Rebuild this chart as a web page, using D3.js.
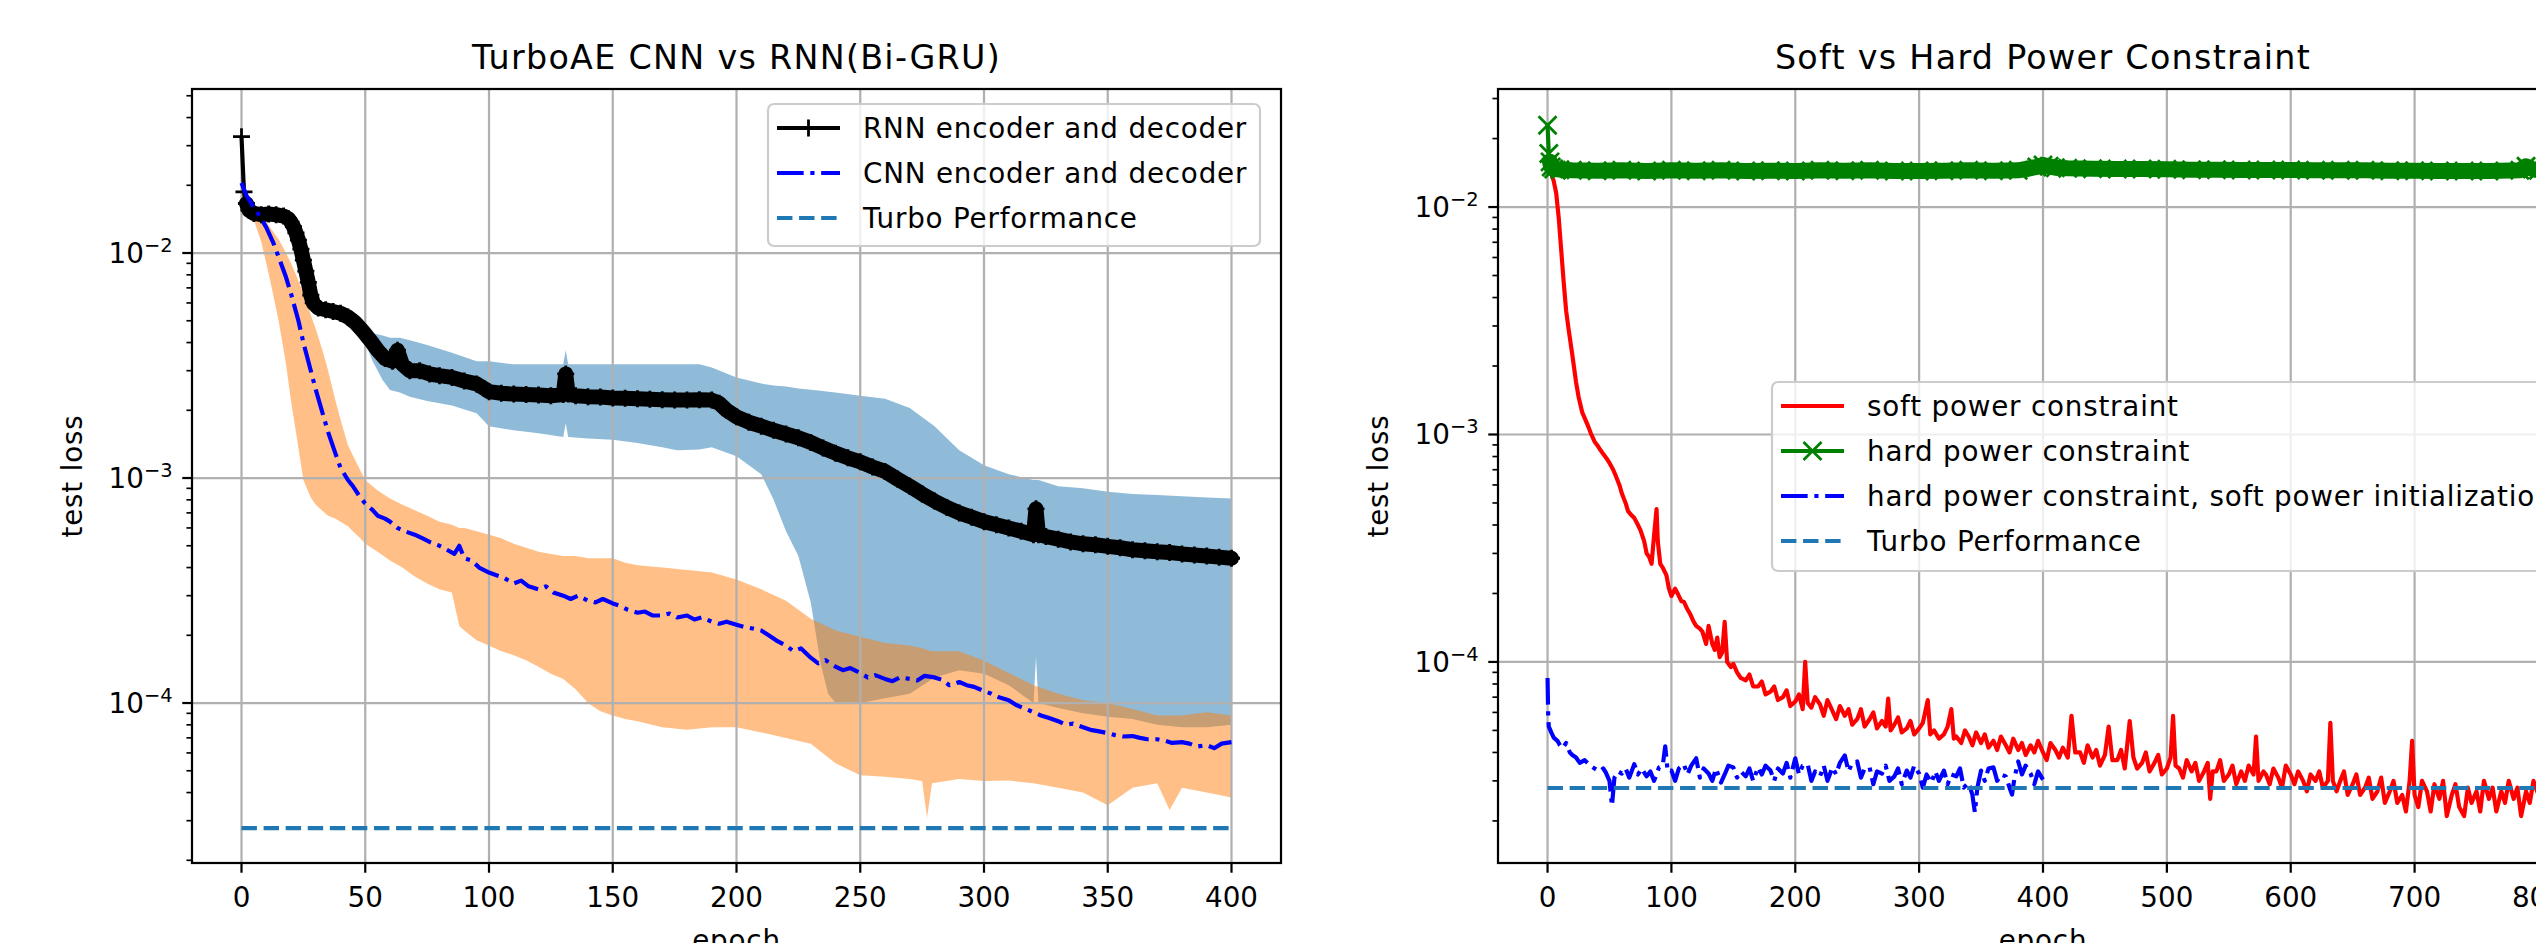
<!DOCTYPE html>
<html>
<head>
<script src="https://d3js.org/d3.v7.min.js"></script>
<style>
  body { margin: 0; background: white; }
  svg text { font-family: "DejaVu Sans", sans-serif; fill: black; }
</style>
</head>
<body>
<svg id="fig" width="2536" height="943"></svg>
<script>
// ---------- data ----------
const titles = ["TurboAE CNN vs RNN(Bi-GRU)", "Soft vs Hard Power Constraint"];
const xLabel = "epoch";
const yLabel = "test loss";
const xTicksLeft = [0, 50, 100, 150, 200, 250, 300, 350, 400];
const xTicksRight = [0, 100, 200, 300, 400, 500, 600, 700, 800];
const yMajorExp = [-4, -3, -2];
const legendLeft = ["RNN encoder and decoder", "CNN encoder and decoder", "Turbo Performance"];
const legendRight = ["soft power constraint", "hard power constraint", "hard power constraint, soft power initialization", "Turbo Performance"];

// left panel: [epoch, loss]
const rnnLoss = [[0,0.0329],[1,0.0187],[2,0.0166],[3,0.0155],[5,0.0150],[8,0.0148],[11,0.0149],[14,0.0148],[17,0.0146],[19,0.0142],[20,0.0137],[21,0.0131],[22,0.0123],[23,0.0114],[24,0.0104],[25,0.0093],[26,0.0083],[27,0.0074],[28,0.0065],[29,0.0060],[31,0.0057],[34,0.0056],[37,0.0055],[40,0.0054],[43,0.0052],[46,0.0049],[49,0.0045],[52,0.0041],[55,0.0037],[58,0.0034],[61,0.0033],[63,0.0037],[65,0.0032],[68,0.0030],[72,0.0030],[76,0.0029],[80,0.00285],[85,0.0028],[90,0.0027],[95,0.00262],[98,0.0025],[100,0.00242],[105,0.00238],[110,0.00236],[115,0.00235],[120,0.00234],[125,0.00232],[130,0.00235],[131,0.00290],[132,0.00236],[135,0.00232],[140,0.0023],[145,0.00229],[150,0.00227],[155,0.00226],[160,0.00225],[165,0.00224],[170,0.00223],[175,0.00222],[180,0.00222],[185,0.00223],[190,0.00222],[193,0.00215],[196,0.002],[200,0.00187],[205,0.00177],[210,0.0017],[215,0.00163],[220,0.00157],[225,0.00151],[230,0.00144],[235,0.00136],[240,0.00129],[245,0.00123],[250,0.00118],[255,0.00112],[260,0.00107],[265,0.00099],[270,0.00092],[275,0.00085],[280,0.00079],[285,0.00074],[290,0.0007],[295,0.00067],[300,0.00064],[305,0.00062],[310,0.0006],[315,0.00058],[320,0.00056],[321,0.00073],[322,0.00056],[325,0.00055],[330,0.000535],[335,0.00052],[340,0.00051],[345,0.000505],[350,0.000497],[355,0.00049],[360,0.00048],[365,0.000475],[370,0.00047],[375,0.000467],[380,0.00046],[385,0.000455],[390,0.00045],[395,0.000445],[400,0.00044]];

const cnnLoss = [[0,0.0205],[2,0.018],[5,0.016],[8,0.0142],[10,0.013],[13,0.011],[15,0.0096],[18,0.0078],[20,0.0066],[23,0.005],[25,0.004],[28,0.003],[30,0.00247],[33,0.0019],[35,0.0016],[38,0.00128],[40,0.00111],[43,0.00098],[45,0.00092],[48,0.00082],[50,0.00077],[53,0.00072],[55,0.00068],[58,0.00066],[60,0.00064],[63,0.0006],[66,0.00058],[70,0.00056],[73,0.00054],[76,0.00052],[80,0.0005],[83,0.00048],[86,0.00046],[88,0.0005],[90,0.00044],[93,0.00043],[96,0.0004],[100,0.00038],[103,0.00037],[106,0.00036],[110,0.00034],[113,0.00035],[116,0.00033],[120,0.00032],[123,0.00033],[126,0.00031],[130,0.0003],[133,0.00029],[136,0.0003],[140,0.000285],[143,0.00028],[146,0.00029],[150,0.000277],[153,0.00027],[156,0.00026],[160,0.000252],[163,0.000255],[166,0.000245],[170,0.000245],[173,0.00025],[176,0.00024],[180,0.000245],[183,0.000235],[186,0.00024],[190,0.00023],[193,0.000225],[196,0.00023],[200,0.000223],[203,0.000218],[206,0.000215],[210,0.00021],[213,0.0002],[216,0.00019],[220,0.00018],[223,0.00017],[226,0.000175],[230,0.000159],[233,0.00015],[236,0.000155],[240,0.000145],[243,0.00014],[246,0.000143],[250,0.000136],[253,0.00013],[256,0.000133],[260,0.000128],[263,0.000125],[266,0.00013],[270,0.000128],[273,0.000126],[276,0.000132],[280,0.00013],[283,0.000127],[286,0.00012],[290,0.000124],[293,0.00012],[296,0.000118],[300,0.000113],[303,0.00011],[306,0.000106],[310,0.000103],[313,0.000098],[316,0.000095],[320,0.000091],[323,0.000088],[326,0.000086],[330,0.000083],[333,0.00008],[336,0.000081],[340,0.000078],[343,0.000076],[346,0.000075],[350,0.0000735],[353,0.000072],[356,0.000071],[360,0.0000713],[363,0.00007],[366,0.000069],[370,0.000069],[373,0.000068],[376,0.0000665],[380,0.000067],[383,0.000066],[386,0.000064],[390,0.000065],[393,0.000063],[396,0.000066],[400,0.000067]];

// shaded ranges: [epoch, low, high]
const rnnBand = [[0,0.032,0.034],[1,0.0185,0.019],[3,0.0152,0.0158],[10,0.0144,0.0152],[19,0.0138,0.0146],[22,0.0118,0.0128],[25,0.0088,0.0099],[28,0.0061,0.0069],[31,0.0055,0.0059],[40,0.0052,0.0056],[46,0.0047,0.0051],[50,0.004,0.0046],[53,0.0033,0.0044],[57,0.00273,0.0043],[60,0.00246,0.0042],[64,0.0024,0.0042],[68,0.0023,0.0041],[75,0.0022,0.0039],[85,0.0021,0.0036],[95,0.00194,0.0033],[100,0.0017,0.0033],[110,0.00163,0.0032],[120,0.00158,0.0032],[130,0.00152,0.0032],[131,0.00175,0.0037],[132,0.00152,0.0032],[140,0.0015,0.0032],[150,0.00148,0.0032],[160,0.00143,0.0032],[170,0.00137,0.0032],[176,0.00133,0.0032],[185,0.00134,0.0032],[190,0.00137,0.0031],[200,0.00125,0.0028],[210,0.00104,0.00263],[215,0.0008,0.00258],[220,0.00058,0.00255],[225,0.00045,0.0025],[230,0.00028,0.00247],[234,0.00015,0.00244],[237,0.00011,0.00242],[240,0.0001,0.0024],[250,0.0001,0.00232],[260,0.000105,0.00225],[270,0.00011,0.00205],[280,0.00013,0.0017],[290,0.00014,0.00133],[300,0.000135,0.00114],[310,0.00012,0.00104],[320,0.0001,0.00098],[321,0.00016,0.00098],[322,0.0001,0.00098],[330,0.000095,0.00092],[340,0.00009,0.0009],[350,0.000087,0.00087],[360,0.000085,0.00085],[370,0.00008,0.00084],[380,0.000078,0.00083],[390,0.000078,0.00082],[400,0.00008,0.00081]];

const cnnBand = [[0,0.02,0.021],[3,0.016,0.0172],[5,0.014,0.0162],[8,0.0112,0.015],[10,0.009,0.0138],[12,0.0072,0.0128],[15,0.005,0.0115],[18,0.0032,0.01],[20,0.0022,0.009],[22,0.0016,0.008],[25,0.00098,0.0066],[28,0.00082,0.0053],[30,0.00076,0.0046],[33,0.00071,0.0036],[35,0.00068,0.003],[38,0.00066,0.0022],[40,0.00064,0.00182],[43,0.00061,0.0014],[45,0.00058,0.00126],[48,0.00054,0.00108],[50,0.00051,0.00098],[55,0.00047,0.00088],[60,0.00043,0.00081],[65,0.0004,0.00076],[70,0.000365,0.00072],[75,0.00034,0.00068],[80,0.00032,0.00064],[85,0.00031,0.00062],[88,0.00022,0.0006],[90,0.00021,0.0006],[95,0.00019,0.00058],[100,0.00018,0.00056],[105,0.00017,0.00054],[110,0.000163,0.00051],[115,0.000155,0.00049],[120,0.000145,0.00047],[125,0.000135,0.00046],[130,0.000128,0.00045],[135,0.000115,0.00045],[140,0.0001,0.00044],[145,0.000092,0.00044],[150,0.000088,0.00044],[155,0.000085,0.00042],[160,0.000083,0.00041],[170,0.000078,0.0004],[180,0.000076,0.00039],[190,0.000078,0.00038],[200,0.000078,0.000354],[210,0.000074,0.00032],[220,0.00007,0.000285],[230,0.000066,0.000237],[240,0.000054,0.00021],[250,0.0000478,0.000197],[260,0.000047,0.000185],[270,0.000046,0.00018],[275,0.000045,0.000175],[277,0.000031,0.000172],[279,0.000044,0.00017],[290,0.000046,0.00017],[300,0.000045,0.000154],[310,0.0000452,0.000136],[320,0.000044,0.00012],[330,0.000042,0.00011],[340,0.00004,0.000103],[350,0.0000351,0.0001],[360,0.000042,0.000094],[370,0.000044,0.000088],[375,0.0000335,0.000088],[380,0.000042,0.000088],[390,0.00004,0.000091],[400,0.000038,0.000088]];

const turboLeft = [[0,0.0000278],[399,0.0000278]];

// right panel: [epoch, loss]
const softLoss = [[0,0.0145],[3,0.014],[5,0.013],[7,0.0115],[9,0.009],[11,0.0065],[13,0.0047],[15,0.0035],[17,0.0029],[20,0.00224],[23,0.0017],[25,0.00147],[28,0.00125],[30,0.00118],[33,0.00108],[35,0.00101],[38,0.00093],[40,0.0009],[43,0.00085],[45,0.00082],[48,0.00078],[50,0.00075],[53,0.0007],[55,0.00066],[58,0.0006],[60,0.00055],[63,0.0005],[65,0.00046],[68,0.00044],[70,0.00043],[73,0.0004],[75,0.00038],[78,0.00034],[80,0.0003],[82,0.00029],[84,0.00027],[86,0.00036],[88,0.00047],[89,0.00034],[91,0.00027],[93,0.00026],[96,0.00024],[98,0.00021],[100,0.000195],[103,0.00021],[105,0.0002],[108,0.000185],[110,0.000184],[113,0.00017],[115,0.000163],[118,0.00015],[120,0.000144],[123,0.00014],[125,0.000136],[128,0.00012],[130,0.000144],[133,0.00012],[135,0.000113],[137,0.000128],[139,0.000105],[141,0.00011],[143,0.00015],[145,0.0001],[148,0.000095],[150,0.000098],[153,0.00009],[156,0.000085],[160,0.000083],[163,0.000088],[166,0.000078],[170,0.000078],[173,0.000082],[176,0.000072],[180,0.000074],[183,0.000078],[186,0.000068],[190,0.00007],[193,0.000075],[196,0.000064],[200,0.000067],[203,0.000072],[206,0.000062],[208,0.0001],[210,0.000066],[213,0.000063],[216,0.00007],[220,0.000065],[223,0.000058],[226,0.000068],[230,0.000061],[233,0.000056],[236,0.000064],[240,0.000058],[243,0.000062],[246,0.000053],[250,0.000056],[253,0.000062],[256,0.000052],[260,0.000056],[263,0.00006],[266,0.000051],[270,0.000055],[273,0.000052],[275,0.000069],[277,0.00005],[280,0.000053],[283,0.000057],[286,0.000049],[290,0.000051],[293,0.000055],[296,0.000048],[300,0.000051],[303,0.000054],[307,0.000068],[309,0.000048],[312,0.00005],[316,0.000046],[320,0.000048],[323,0.000052],[326,0.000062],[328,0.000046],[330,0.000047],[334,0.000044],[337,0.00005],[340,0.000047],[343,0.000043],[346,0.000049],[350,0.000044],[353,0.000048],[356,0.000042],[360,0.000045],[363,0.000041],[366,0.000047],[370,0.000043],[373,0.00004],[376,0.000046],[380,0.000041],[383,0.000044],[386,0.000039],[390,0.000043],[393,0.00004],[396,0.000045],[400,0.00004],[403,0.000037],[406,0.000044],[410,0.000041],[413,0.000038],[416,0.000042],[420,0.000038],[423,0.000058],[426,0.00004],[430,0.00004],[433,0.000036],[436,0.000043],[440,0.000038],[443,0.000041],[446,0.000035],[450,0.000039],[453,0.000052],[456,0.000037],[460,0.000037],[463,0.000041],[466,0.000034],[470,0.000055],[473,0.000038],[476,0.000034],[480,0.000036],[483,0.00004],[486,0.000033],[490,0.000036],[493,0.000039],[496,0.000032],[500,0.000034],[503,0.000038],[505,0.000058],[507,0.000035],[510,0.000034],[513,0.000031],[516,0.000037],[520,0.000033],[523,0.000036],[526,0.00003],[530,0.000033],[533,0.000036],[535,0.000025],[537,0.000033],[540,0.000033],[543,0.000037],[546,0.00003],[550,0.000032],[553,0.000035],[556,0.000029],[560,0.000033],[563,0.00003],[566,0.000035],[570,0.000032],[572,0.000047],[574,0.00003],[578,0.000033],[580,0.000032],[583,0.000029],[586,0.000034],[590,0.000031],[593,0.000028],[596,0.000035],[600,0.000032],[603,0.000029],[606,0.000033],[610,0.00003],[613,0.000027],[616,0.000032],[620,0.00003],[623,0.000033],[626,0.000028],[630,0.00003],[632,0.000054],[634,0.00003],[637,0.000027],[640,0.00003],[643,0.000033],[646,0.000026],[650,0.000029],[653,0.000032],[656,0.000026],[660,0.000028],[663,0.000031],[666,0.000025],[670,0.000027],[673,0.000031],[676,0.000024],[680,0.000027],[683,0.00003],[686,0.000024],[690,0.000026],[693,0.000022],[696,0.00003],[698,0.000045],[700,0.000026],[703,0.000023],[706,0.00003],[710,0.000027],[713,0.000022],[716,0.000029],[720,0.000025],[723,0.00003],[726,0.000021],[730,0.000026],[733,0.000029],[736,0.000023],[740,0.000021],[743,0.000028],[746,0.000024],[750,0.000027],[753,0.000022],[756,0.00003],[760,0.000025],[763,0.000028],[766,0.000022],[770,0.000027],[773,0.000024],[776,0.00003],[780,0.000025],[783,0.000028],[786,0.000021],[790,0.000027],[793,0.000024],[796,0.00003],[800,0.000026]];

const hardLoss = [[0,0.0229],[1,0.0172],[2,0.0158],[3,0.015],[5,0.0147],[10,0.0146],[20,0.0145],[40,0.01445],[60,0.0145],[80,0.0144],[100,0.0145],[120,0.01445],[140,0.0145],[160,0.0144],[180,0.01445],[200,0.0144],[220,0.0145],[240,0.01445],[260,0.0145],[280,0.0144],[300,0.0144],[320,0.01445],[340,0.0145],[360,0.01445],[380,0.0145],[395,0.015],[400,0.0153],[405,0.0151],[410,0.0149],[420,0.0148],[440,0.01475],[460,0.0147],[480,0.0147],[500,0.01465],[520,0.0146],[540,0.0146],[560,0.01455],[580,0.01455],[600,0.01455],[620,0.0145],[640,0.0145],[660,0.0145],[680,0.01445],[700,0.01445],[720,0.0144],[740,0.0144],[760,0.0144],[785,0.0145],[790,0.0151],[795,0.0147],[800,0.0145]];

const hardSoftInitLoss = [[0,0.000085],[0.5,0.000059],[1,0.000052],[3,0.000049],[5,0.0000465],[8,0.000045],[10,0.000043],[12,0.0000418],[15,0.000044],[18,0.00004],[20,0.000039],[23,0.000038],[26,0.000036],[30,0.000037],[34,0.0000352],[38,0.000034],[42,0.000033],[45,0.000034],[47,0.0000327],[50,0.00003],[52,0.0000233],[54,0.000031],[57,0.000033],[60,0.0000323],[63,0.000034],[66,0.000031],[70,0.0000355],[73,0.000032],[76,0.000034],[80,0.0000314],[83,0.000033],[86,0.00003],[90,0.0000344],[93,0.000035],[95,0.0000426],[97,0.000033],[100,0.0000333],[103,0.00003],[106,0.000034],[110,0.0000355],[113,0.000032],[116,0.000035],[120,0.0000377],[123,0.000031],[126,0.000034],[130,0.0000323],[133,0.00003],[136,0.000034],[140,0.0000295],[143,0.000032],[146,0.000035],[150,0.0000344],[153,0.000031],[156,0.000033],[160,0.0000314],[163,0.000034],[166,0.00003],[170,0.0000344],[173,0.000032],[176,0.000035],[180,0.0000333],[183,0.00003],[186,0.000034],[190,0.0000323],[193,0.000036],[196,0.000031],[200,0.0000377],[203,0.000032],[206,0.000035],[210,0.0000355],[213,0.00003],[216,0.000033],[220,0.0000314],[223,0.000035],[226,0.00003],[230,0.0000344],[233,0.000032],[236,0.000036],[240,0.0000388],[243,0.000033],[246,0.000036],[250,0.0000365],[253,0.000031],[256,0.000034],[260,0.0000344],[263,0.000029],[266,0.000033],[270,0.0000323],[273,0.000035],[276,0.00003],[280,0.0000314],[283,0.000034],[286,0.000029],[290,0.0000333],[293,0.000031],[296,0.000035],[300,0.0000323],[303,0.000028],[306,0.000032],[310,0.0000295],[313,0.000033],[316,0.00003],[320,0.0000333],[323,0.000029],[326,0.000032],[330,0.0000314],[333,0.000034],[336,0.000028],[340,0.0000295],[343,0.000026],[345,0.0000218],[347,0.000028],[350,0.0000333],[353,0.00003],[356,0.000034],[360,0.0000344],[363,0.00003],[366,0.000032],[370,0.0000314],[373,0.000028],[375,0.0000261],[377,0.000031],[380,0.0000365],[383,0.000032],[386,0.000035],[390,0.0000323],[393,0.000029],[396,0.000033],[400,0.0000304]];

const turboRight = [[0,0.0000279],[800,0.0000279]];

// ---------- styling ----------
const PT = 200 / 72;           // figure was saved at 200 dpi
const fontSize = 10 * PT;
const lw = 1.5 * PT;
const dashed = [3.7 * lw, 1.6 * lw].join(",");
const dashdot = [6.4 * lw, 1.6 * lw, 1 * lw, 1.6 * lw].join(",");
const axTop = 89, axBottom = 863;

const svg = d3.select("#fig");

function makeAxes(id, left, right, xDomain, yExpDomain, xTicks, title) {
    const x = d3.scaleLinear().domain(xDomain).range([left, right]);
    const y = d3.scaleLog().domain(yExpDomain.map(e => Math.pow(10, e))).range([axBottom, axTop]);
    const g = svg.append("g").attr("id", id);

    g.append("clipPath").attr("id", id + "-clip")
     .append("rect").attr("x", left).attr("y", axTop)
     .attr("width", right - left).attr("height", axBottom - axTop);

    const fills = g.append("g").attr("clip-path", `url(#${id}-clip)`);
    const grid = g.append("g");
    const lines = g.append("g").attr("clip-path", `url(#${id}-clip)`);
    const frame = g.append("g");

    // grid
    grid.selectAll("line.gx").data(xTicks).join("line")
        .attr("x1", d => x(d)).attr("x2", d => x(d))
        .attr("y1", axTop).attr("y2", axBottom)
        .attr("stroke", "#b0b0b0").attr("stroke-width", 0.8 * PT);
    grid.selectAll("line.gy").data(yMajorExp).join("line")
        .attr("x1", left).attr("x2", right)
        .attr("y1", d => y(Math.pow(10, d))).attr("y2", d => y(Math.pow(10, d)))
        .attr("stroke", "#b0b0b0").attr("stroke-width", 0.8 * PT);

    // minor log ticks
    const minors = [];
    for (let e = -6; e <= 0; e++) {
        for (let k = 2; k <= 9; k++) {
            const v = k * Math.pow(10, e);
            if (v >= y.domain()[0] && v <= y.domain()[1]) minors.push(v);
        }
    }
    frame.selectAll("line.minor").data(minors).join("line")
        .attr("x1", left - 2 * PT).attr("x2", left)
        .attr("y1", d => y(d)).attr("y2", d => y(d))
        .attr("stroke", "black").attr("stroke-width", 0.6 * PT);
    frame.selectAll("line.major").data(yMajorExp).join("line")
        .attr("x1", left - 3.5 * PT).attr("x2", left)
        .attr("y1", d => y(Math.pow(10, d))).attr("y2", d => y(Math.pow(10, d)))
        .attr("stroke", "black").attr("stroke-width", 0.8 * PT);
    const ylab = frame.selectAll("text.ytick").data(yMajorExp).join("text")
        .attr("x", left - 7 * PT)
        .attr("y", d => y(Math.pow(10, d)) + 10)
        .attr("text-anchor", "end")
        .attr("font-size", fontSize);
    ylab.append("tspan").text("10");
    ylab.append("tspan").attr("font-size", fontSize * 0.7).attr("dy", -11).text(d => "\u2212" + Math.abs(d));

    // x ticks
    frame.selectAll("line.xtick").data(xTicks).join("line")
        .attr("x1", d => x(d)).attr("x2", d => x(d))
        .attr("y1", axBottom).attr("y2", axBottom + 3.5 * PT)
        .attr("stroke", "black").attr("stroke-width", 0.8 * PT);
    frame.selectAll("text.xtick").data(xTicks).join("text")
        .attr("x", d => x(d)).attr("y", 907)
        .attr("text-anchor", "middle").attr("font-size", fontSize)
        .text(d => d);

    // frame
    frame.append("rect").attr("x", left).attr("y", axTop)
        .attr("width", right - left).attr("height", axBottom - axTop)
        .attr("fill", "none").attr("stroke", "black").attr("stroke-width", 0.8 * PT);

    // labels
    const cx = (left + right) / 2;
    frame.append("text").attr("x", cx).attr("y", 69)
        .attr("text-anchor", "middle").attr("font-size", 12 * PT)
        .attr("letter-spacing", 1.3).text(title);
    frame.append("text").attr("x", cx).attr("y", 950)
        .attr("text-anchor", "middle").attr("font-size", fontSize)
        .attr("letter-spacing", 0.8).text(xLabel);
    frame.append("text")
        .attr("transform", `translate(${left - 110},${(axTop + axBottom) / 2}) rotate(-90)`)
        .attr("text-anchor", "middle").attr("font-size", fontSize)
        .attr("letter-spacing", 0.8).text(yLabel);

    return {x, y, g, fills, lines};
}

function drawBand(ax, data, color) {
    const area = d3.area().x(d => ax.x(d[0])).y0(d => ax.y(d[1])).y1(d => ax.y(d[2]));
    ax.fills.append("path").datum(data).attr("d", area)
        .attr("fill", color).attr("fill-opacity", 0.5);
}

function drawLine(ax, data, color, dash) {
    const line = d3.line().x(d => ax.x(d[0])).y(d => ax.y(d[1]));
    ax.lines.append("path").datum(data).attr("d", line)
        .attr("fill", "none").attr("stroke", color).attr("stroke-width", lw)
        .attr("stroke-linejoin", "round")
        .attr("stroke-dasharray", dash || null);
}

const plusPath = s => `M${-s},0H${s}M0,${-s}V${s}`;
const crossPath = s => `M${-s},${-s}L${s},${s}M${-s},${s}L${s},${-s}`;

// dense markers in the original merge into a thick band; the underlay reproduces it
function drawMarkerLine(ax, data, color, markerPath, bandWidth) {
    const line = d3.line().x(d => ax.x(d[0])).y(d => ax.y(d[1]));
    ax.lines.append("path").datum(data.filter(d => d[0] >= 2)).attr("d", line)
        .attr("fill", "none").attr("stroke", color).attr("stroke-width", bandWidth)
        .attr("stroke-linejoin", "round").attr("stroke-linecap", "round");
    drawLine(ax, data, color);
    ax.lines.selectAll(null).data(data).join("path")
        .attr("d", markerPath)
        .attr("transform", d => `translate(${ax.x(d[0])},${ax.y(d[1])})`)
        .attr("fill", "none").attr("stroke", color).attr("stroke-width", 1.0 * PT);
}

function drawLegend(ax, x0, y0, w, h, entries) {
    const lg = ax.g.append("g");
    lg.append("rect").attr("x", x0).attr("y", y0).attr("width", w).attr("height", h)
        .attr("rx", 6).attr("ry", 6)
        .attr("fill", "white").attr("fill-opacity", 0.8)
        .attr("stroke", "#cccccc").attr("stroke-width", 0.8 * PT);
    entries.forEach((e, i) => {
        const cy = y0 + 24 + i * 45;
        const hx0 = x0 + 9, hx1 = x0 + 72;
        lg.append("line").attr("x1", hx0).attr("x2", hx1).attr("y1", cy).attr("y2", cy)
            .attr("stroke", e.color).attr("stroke-width", lw)
            .attr("stroke-dasharray", e.dash || null);
        if (e.marker) {
            lg.append("path").attr("d", e.marker)
                .attr("transform", `translate(${(hx0 + hx1) / 2},${cy})`)
                .attr("fill", "none").attr("stroke", e.color).attr("stroke-width", 1.0 * PT);
        }
        lg.append("text").attr("x", x0 + 95).attr("y", cy + 10)
            .attr("font-size", fontSize).attr("letter-spacing", 0.8).text(e.label);
    });
}

// ---------- left panel ----------
const axL = makeAxes("left", 192, 1281, [-20, 420], [-4.711, -1.271], xTicksLeft, titles[0]);
drawBand(axL, rnnBand, "#1f77b4");
drawBand(axL, cnnBand, "#ff7f0e");
drawMarkerLine(axL, rnnLoss, "black", plusPath(8.5), 15);
drawLine(axL, cnnLoss, "#0000ff", dashdot);
drawLine(axL, turboLeft, "#1f77b4", dashed);
drawLegend(axL, 768, 104, 492, 142, [
    {label: legendLeft[0], color: "black", marker: plusPath(8.5)},
    {label: legendLeft[1], color: "#0000ff", dash: dashdot},
    {label: legendLeft[2], color: "#1f77b4", dash: dashed}
]);

// ---------- right panel ----------
const axR = makeAxes("right", 1498, 2588, [-40, 840], [-4.884, -1.481], xTicksRight, titles[1]);
drawLine(axR, softLoss, "#ff0000");
drawMarkerLine(axR, hardLoss, "#008000", crossPath(9), 16);
drawLine(axR, hardSoftInitLoss, "#0000ff", dashdot);
drawLine(axR, turboRight, "#1f77b4", dashed);
drawLegend(axR, 1772, 382, 940, 189, [
    {label: legendRight[0], color: "#ff0000"},
    {label: legendRight[1], color: "#008000", marker: crossPath(9)},
    {label: legendRight[2], color: "#0000ff", dash: dashdot},
    {label: legendRight[3], color: "#1f77b4", dash: dashed}
]);
</script>
</body>
</html>
